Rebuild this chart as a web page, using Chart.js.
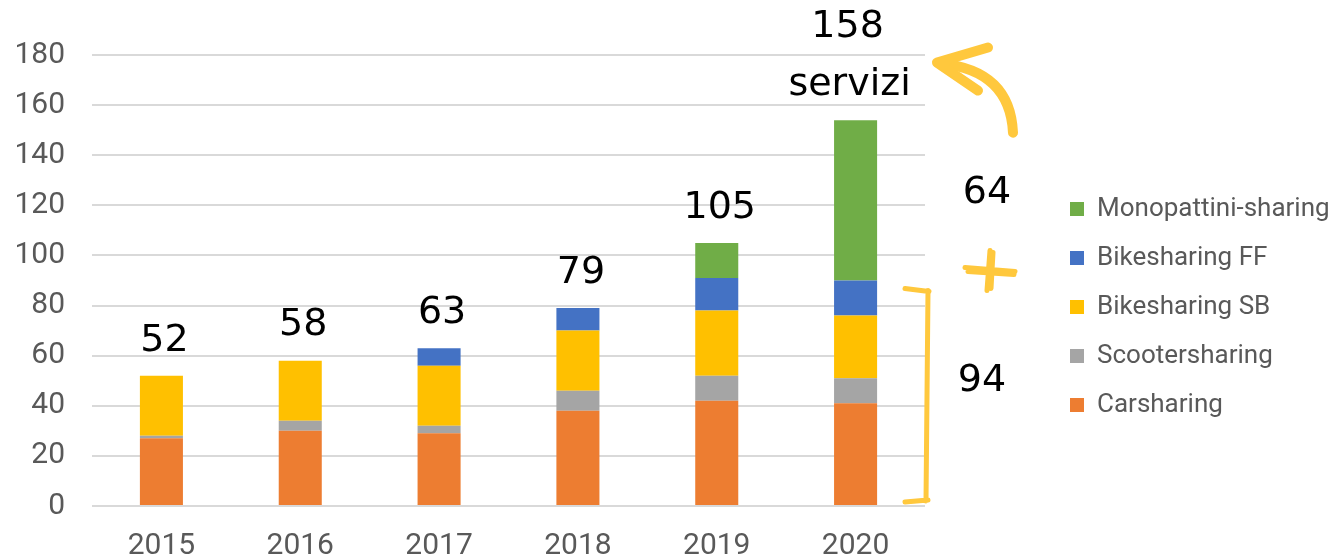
<!DOCTYPE html>
<html>
<head>
<meta charset="utf-8">
<script src="https://cdn.jsdelivr.net/npm/chart.js@4/dist/chart.umd.min.js"></script>
<style>
    html, body { margin: 0; padding: 0; background: #fff; }
    #wrap { width: 1340px; height: 557px; }
</style>
</head>
<body>
<div id="wrap"><canvas id="servicesChart" width="1340" height="557"></canvas></div>
<script>
// Servizi di sharing mobility per anno
const years = ['2015', '2016', '2017', '2018', '2019', '2020'];
const carsharing = [27, 30, 29, 38, 42, 41];
const scootersharing = [1, 4, 3, 8, 10, 10];
const bikesharingSB = [24, 24, 24, 24, 26, 25];
const bikesharingFF = [0, 0, 7, 9, 13, 14];
const monopattini = [0, 0, 0, 0, 14, 64];

// hand-written notes on the slide
const noteLabels = ['52', '58', '63', '79', '105', '158'];
const noteLast = 'servizi';
const noteGreen = '64';
const noteOthers = '94';

const tickColor = '#595959';
const markerYellow = '#FFC83D';

// push the legend away from the plot to leave room for the notes
const legendSpot = {
    id: 'legendSpot',
    beforeInit(chart) {
        const fit = chart.legend.fit;
        chart.legend.fit = function () {
            fit.call(this);
            this.width = 415;
        };
    },
    afterLayout(chart) {
        const lg = chart.legend;
        const w = lg.right - lg.left;
        lg.left = chart.chartArea.right + 122;
        lg.right = lg.left + w;
        lg.top = chart.chartArea.top + 118;
    }
};

const handNotes = {
    id: 'handNotes',
    afterDraw(chart) {
        const { ctx, chartArea, scales: { x, y } } = chart;
        const right = chartArea.right;
        const totals = years.map((_, i) =>
            carsharing[i] + scootersharing[i] + bikesharingSB[i] + bikesharingFF[i] + monopattini[i]);

        ctx.save();
        ctx.fillStyle = '#000';
        ctx.font = '38px "DejaVu Sans"';
        ctx.textAlign = 'center';
        ctx.textBaseline = 'middle';

        noteLabels.forEach((txt, i) => {
            if (i === noteLabels.length - 1) {
                ctx.fillText(txt, x.getPixelForValue(i) - 8, y.getPixelForValue(191));
                ctx.fillText(noteLast, x.getPixelForValue(i) - 6, y.getPixelForValue(168));
            } else {
                ctx.fillText(txt, x.getPixelForValue(i) + 3, y.getPixelForValue(totals[i] + 14));
            }
        });
        ctx.fillText(noteGreen, right + 62, y.getPixelForValue(125));
        ctx.fillText(noteOthers, right + 57, y.getPixelForValue(50));

        // yellow marker strokes
        ctx.strokeStyle = markerYellow;
        ctx.lineCap = 'round';
        ctx.lineJoin = 'round';

        // bracket round the non-scooter services
        ctx.lineWidth = 5;
        const bTop = y.getPixelForValue(86);
        const bBot = y.getPixelForValue(2);
        ctx.beginPath();
        ctx.moveTo(right + 3, bTop);
        ctx.lineTo(right + 1, bBot);
        ctx.moveTo(right - 20, bTop - 2);
        ctx.lineTo(right + 4, bTop + 1);
        ctx.moveTo(right - 20, bBot + 1);
        ctx.lineTo(right + 3, bBot - 1);
        ctx.stroke();

        // star
        const sx = right + 65, sy = y.getPixelForValue(94);
        ctx.lineWidth = 5;
        ctx.beginPath();
        ctx.moveTo(sx - 25, sy - 3);
        ctx.lineTo(sx + 25, sy + 1);
        ctx.moveTo(sx - 22, sy + 1);
        ctx.lineTo(sx + 24, sy + 4);
        ctx.moveTo(sx, sy - 20);
        ctx.lineTo(sx - 3, sy + 20);
        ctx.moveTo(sx + 3, sy - 18);
        ctx.lineTo(sx + 1, sy + 18);
        ctx.stroke();

        // curved arrow towards the 2020 total
        const tipX = right + 12, tipY = y.getPixelForValue(177);
        ctx.lineWidth = 10;
        ctx.beginPath();
        ctx.moveTo(right + 88, y.getPixelForValue(149));
        ctx.quadraticCurveTo(right + 85, tipY + 8, tipX + 4, tipY + 1);
        ctx.stroke();
        ctx.beginPath();
        ctx.moveTo(right + 63, tipY - 15);
        ctx.lineTo(tipX, tipY);
        ctx.lineTo(right + 53, tipY + 28);
        ctx.stroke();
        ctx.restore();
    }
};

const ctx = document.getElementById('servicesChart').getContext('2d');

new Chart(ctx, {
    type: 'bar',
    data: {
        labels: years,
        datasets: [
            { label: 'Carsharing', data: carsharing, backgroundColor: '#ED7D31' },
            { label: 'Scootersharing', data: scootersharing, backgroundColor: '#A5A5A5' },
            { label: 'Bikesharing SB', data: bikesharingSB, backgroundColor: '#FFC000' },
            { label: 'Bikesharing FF', data: bikesharingFF, backgroundColor: '#4472C4' },
            { label: 'Monopattini-sharing', data: monopattini, backgroundColor: '#70AD47' }
        ]
    },
    options: {
        responsive: false,
        animation: false,
        devicePixelRatio: 1,
        layout: { padding: { top: 55, left: 0, right: 0, bottom: 0 } },
        datasets: {
            bar: { barPercentage: 0.31, categoryPercentage: 1, borderWidth: 0 }
        },
        scales: {
            x: {
                stacked: true,
                afterFit(scale) { scale.height = 51; },
                grid: { display: false },
                border: { display: false },
                ticks: {
                    color: tickColor,
                    padding: 14,
                    font: { family: 'Roboto', size: 30, lineHeight: 1.23 }
                }
            },
            y: {
                stacked: true,
                min: 0,
                max: 180,
                afterFit(scale) { scale.width = 92; },
                grid: { color: '#D9D9D9', lineWidth: 2, drawTicks: false },
                border: { display: false },
                ticks: {
                    stepSize: 20,
                    color: tickColor,
                    padding: 27,
                    font: { family: 'Roboto', size: 30 }
                }
            }
        },
        plugins: {
            legend: {
                position: 'right',
                align: 'start',
                reverse: true,
                labels: {
                    boxWidth: 14,
                    boxHeight: 14,
                    padding: 23,
                    color: tickColor,
                    font: { family: 'Roboto', size: 26 }
                }
            },
            tooltip: { enabled: false }
        }
    },
    plugins: [legendSpot, handNotes]
});
</script>
</body>
</html>
